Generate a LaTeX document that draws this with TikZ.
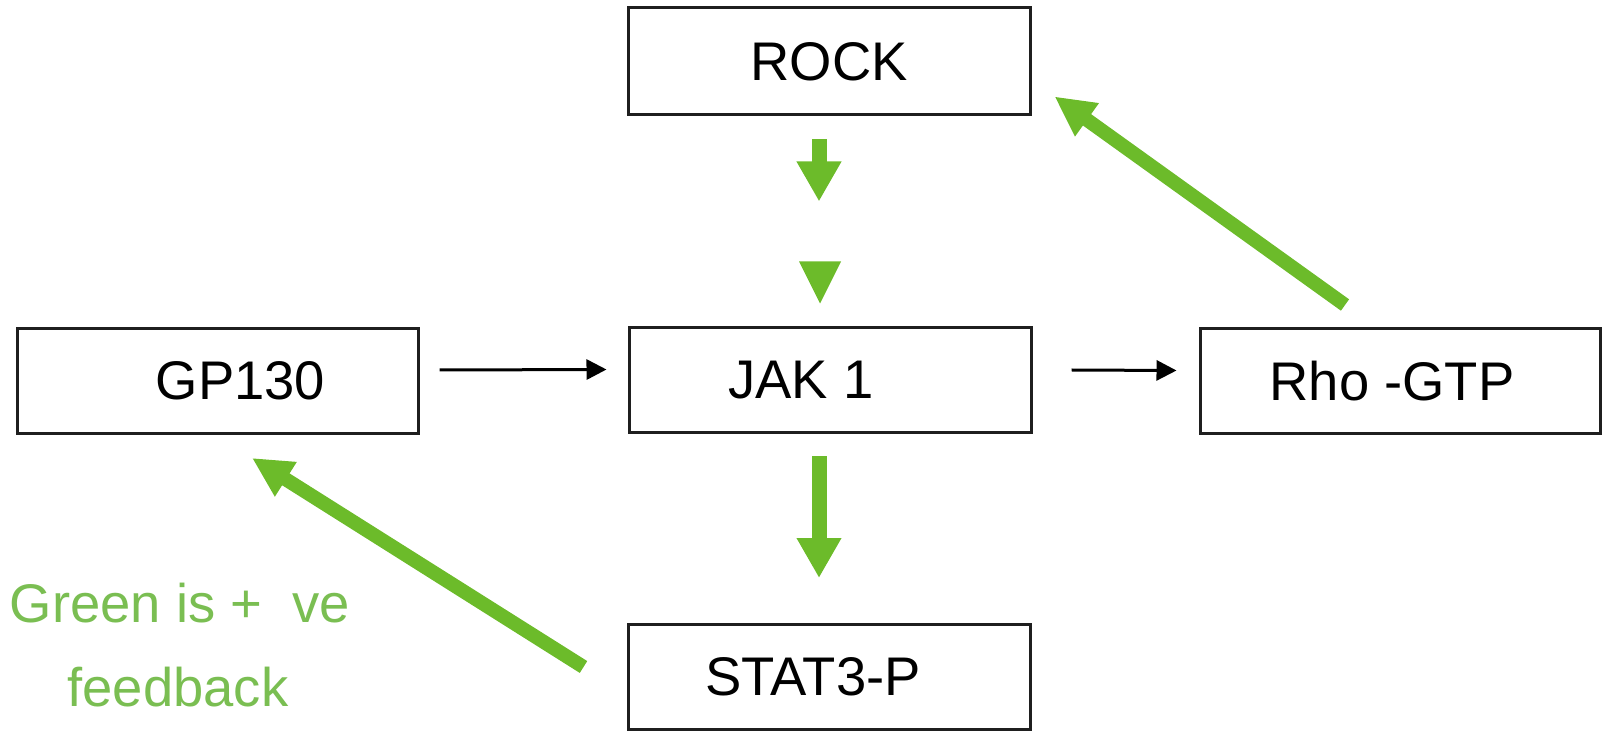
\documentclass[tikz,border=0pt]{standalone}
\usepackage{fontspec}
\setmainfont{Liberation Sans}
\usetikzlibrary{arrows.meta}
\definecolor{fbgreen}{RGB}{108,187,42}
\definecolor{txtgreen}{RGB}{122,190,82}
\begin{document}
\begin{tikzpicture}[x=0.5pt,y=-0.5pt,
  box/.style={draw=black!88,line width=1.5pt,rectangle,inner sep=0pt,
    font=\fontsize{27.2}{32}\selectfont,minimum width=201pt,minimum height=52.5pt},
  blackarrow/.style={line width=1.5pt,-{Triangle[length=10pt,width=10pt]}},
  greenarrow/.style={fbgreen,line width=7.5pt,-{Triangle[length=20pt,width=21pt]}},
  diagarrow/.style={fbgreen,line width=7pt,-{Triangle[length=20pt,width=19pt]}},
  legend/.style={txtgreen,inner sep=0pt,font=\fontsize{27.2}{32}\selectfont}]
\useasboundingbox (0,0) rectangle (1605,731);

\node[box,minimum height=53.5pt] (rock) at (829,61.5) {ROCK};
\node[box,minimum width=200.5pt] (gp) at (217.5,381) {\hspace*{23pt}GP130};
\node[box] (jak) at (830,380.5) {JAK 1\hspace*{29pt}};
\node[box,minimum width=200pt] (rho) at (1400,381) {Rho -GTP\hspace*{8pt}};
\node[box] (stat) at (829,677) {STAT3-P\hspace*{16pt}};

% black arrows
\draw[blackarrow] ([shift={(20,-11)}]gp.east) -- ([shift={(-21,-11)}]jak.west);
\draw[blackarrow] ([shift={(39,-10.5)}]jak.east) -- ([shift={(-22,-10.5)}]rho.west);

% green arrows
\draw[greenarrow] ([shift={(-10,23)}]rock.south) -- ++(0,62);
\coordinate (tri) at ([shift={(-10,-23)}]jak.north);
\fill[fbgreen] (tri) -- ++(-21,-42) -- ++(42,0) -- cycle;
\draw[greenarrow] ([shift={(-11,22)}]jak.south) -- ([shift={(-10,-45)}]stat.north);
\draw[diagarrow] ([shift={(-55,-22)}]rho.north) -- ([shift={(23,-20)}]rock.south east);
\draw[diagarrow] ([shift={(-43,-10)}]stat.west) -- ([shift={(34.5,23)}]gp.south);

% legend
\node[legend,anchor=base] (l1) at (180,622) {Green is + \ ve};
\node[legend,anchor=base] (l2) at (178,706) {feedback};
\end{tikzpicture}
\end{document}
